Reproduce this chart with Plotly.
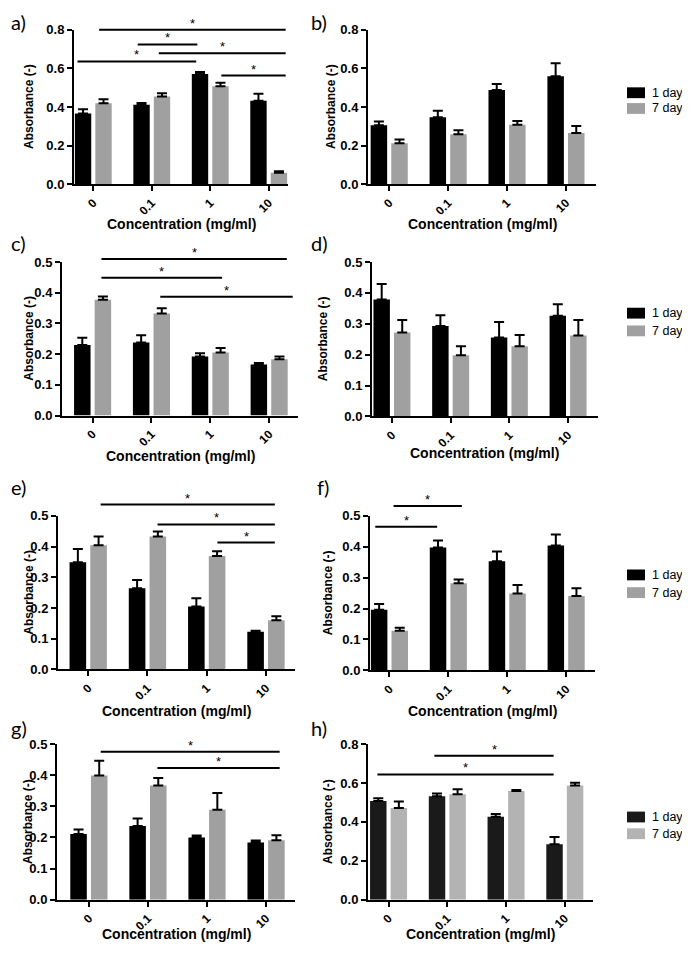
import plotly.graph_objects as go

# ---------------- data ----------------
categories = ["0", "0.1", "1", "10"]
series_names = ["1 day", "7 day"]
x_title = "Concentration (mg/ml)"
y_title = "Absorbance (-)"

a_day1 = [0.366, 0.412, 0.571, 0.432]
a_day1_sd = [0.022, 0.009, 0.010, 0.037]
a_day7 = [0.420, 0.454, 0.508, 0.059]
a_day7_sd = [0.020, 0.017, 0.017, 0.008]

b_day1 = [0.305, 0.347, 0.488, 0.559]
b_day1_sd = [0.020, 0.034, 0.031, 0.068]
b_day7 = [0.212, 0.259, 0.308, 0.266]
b_day7_sd = [0.020, 0.021, 0.019, 0.036]

c_day1 = [0.230, 0.238, 0.192, 0.166]
c_day1_sd = [0.023, 0.023, 0.011, 0.005]
c_day7 = [0.377, 0.332, 0.205, 0.183]
c_day7_sd = [0.011, 0.017, 0.015, 0.009]

d_day1 = [0.379, 0.293, 0.256, 0.326]
d_day1_sd = [0.050, 0.035, 0.050, 0.037]
d_day7 = [0.272, 0.198, 0.227, 0.262]
d_day7_sd = [0.040, 0.029, 0.037, 0.050]

e_day1 = [0.349, 0.264, 0.205, 0.123]
e_day1_sd = [0.043, 0.027, 0.027, 0.003]
e_day7 = [0.404, 0.433, 0.369, 0.160]
e_day7_sd = [0.029, 0.016, 0.016, 0.013]

f_day1 = [0.196, 0.398, 0.353, 0.404]
f_day1_sd = [0.019, 0.022, 0.032, 0.036]
f_day7 = [0.128, 0.282, 0.249, 0.241]
f_day7_sd = [0.010, 0.012, 0.027, 0.025]

g_day1 = [0.211, 0.237, 0.200, 0.184]
g_day1_sd = [0.015, 0.024, 0.006, 0.006]
g_day7 = [0.399, 0.367, 0.289, 0.191]
g_day7_sd = [0.048, 0.024, 0.054, 0.016]

h_day1 = [0.508, 0.532, 0.427, 0.285]
h_day1_sd = [0.014, 0.014, 0.014, 0.037]
h_day7 = [0.471, 0.542, 0.559, 0.588]
h_day7_sd = [0.034, 0.026, 0.005, 0.014]

# significance brackets: (start category pos, end category pos, level)
a_sig = [(0.10, 3.29, 0.800), (0.76, 1.78, 0.724), (1.12, 3.29, 0.678),
         (-0.27, 1.76, 0.636), (2.19, 3.29, 0.563)]
c_sig = [(0.15, 3.30, 0.510), (0.15, 2.20, 0.449), (1.15, 3.40, 0.387)]
e_sig = [(0.21, 3.15, 0.537), (1.17, 3.15, 0.472), (2.18, 3.15, 0.413)]
f_sig = [(0.07, 1.23, 0.532), (-0.24, 0.81, 0.465)]
g_sig = [(0.20, 3.23, 0.476), (1.16, 3.23, 0.423)]
h_sig = [(0.78, 2.81, 0.741), (-0.19, 2.81, 0.644)]

# ---------------- layout / style ----------------
PAGE_W, PAGE_H = 690, 956
OFF = 8  # default page body margin; keep figure inside the window (no scrollbars)
W, H = PAGE_W - 2 * OFF, PAGE_H - 2 * OFF
FONT = "Liberation Sans"
STD = ("#000000", "#a0a0a0")
ALT = ("#1a1a1a", "#b3b3b3")

panels = [
    dict(label="a)", d1=a_day1, s1=a_day1_sd, d7=a_day7, s7=a_day7_sd, sig=a_sig,
         ymax=0.8, dtick=0.2, xpx=(74, 288), ypx=(23, 180), xr=(-0.33, 3.33),
         col=STD, lab=(8.5, 15), ytx=29, xty=220, leg=None),
    dict(label="b)", d1=b_day1, s1=b_day1_sd, d7=b_day7, s7=b_day7_sd, sig=[],
         ymax=0.8, dtick=0.2, xpx=(368, 596), ypx=(23, 180), xr=(-0.36, 3.51),
         col=STD, lab=(309, 15), ytx=331, xty=220, leg=(87, 103)),
    dict(label="c)", d1=c_day1, s1=c_day1_sd, d7=c_day7, s7=c_day7_sd, sig=c_sig,
         ymax=0.5, dtick=0.1, xpx=(62, 298), ypx=(259, 415), xr=(-0.52, 3.49),
         col=STD, lab=(8.5, 240), ytx=29, xty=456, leg=None),
    dict(label="d)", d1=d_day1, s1=d_day1_sd, d7=d_day7, s7=d_day7_sd, sig=[],
         ymax=0.5, dtick=0.1, xpx=(372, 598), ypx=(259, 416), xr=(-0.34, 3.51),
         col=STD, lab=(309, 240), ytx=323, xty=453, leg=(311, 329)),
    dict(label="e)", d1=e_day1, s1=e_day1_sd, d7=e_day7, s7=e_day7_sd, sig=e_sig,
         ymax=0.5, dtick=0.1, xpx=(58, 295), ypx=(517, 673), xr=(-0.51, 3.49),
         col=STD, lab=(8.5, 488), ytx=29, xty=715, leg=None),
    dict(label="f)", d1=f_day1, s1=f_day1_sd, d7=f_day7, s7=f_day7_sd, sig=f_sig,
         ymax=0.5, dtick=0.1, xpx=(370, 595), ypx=(517, 674), xr=(-0.33, 3.49),
         col=STD, lab=(315, 488), ytx=328, xty=715, leg=(577, 595)),
    dict(label="g)", d1=g_day1, s1=g_day1_sd, d7=g_day7, s7=g_day7_sd, sig=g_sig,
         ymax=0.5, dtick=0.1, xpx=(57, 295), ypx=(749, 907), xr=(-0.54, 3.49),
         col=STD, lab=(8.5, 733), ytx=28, xty=942, leg=None),
    dict(label="h)", d1=h_day1, s1=h_day1_sd, d7=h_day7, s7=h_day7_sd, sig=h_sig,
         ymax=0.8, dtick=0.2, xpx=(368, 593), ypx=(749, 907), xr=(-0.35, 3.48),
         col=ALT, lab=(309, 733), ytx=328, xty=942, leg=(823, 840)),
]

def px_x(p):
    return (p - OFF) / W

def px_y(p):
    return 1 - (p - OFF) / H

fig = go.Figure()
shapes = []
annotations = []
layout_axes = {}

for i, p in enumerate(panels):
    n = "" if i == 0 else str(i + 1)
    xa, ya = "x" + n, "y" + n
    for vals, sds, color, name in [(p["d1"], p["s1"], p["col"][0], series_names[0]),
                                   (p["d7"], p["s7"], p["col"][1], series_names[1])]:
        fig.add_trace(go.Bar(
            x=categories, y=vals, name=name, xaxis=xa, yaxis=ya, showlegend=False,
            marker=dict(color=color, line=dict(width=0)),
            error_y=dict(type="data", array=sds, arrayminus=[0] * len(sds),
                         symmetric=False, color="black", thickness=2, width=5),
        ))
    layout_axes["xaxis" + n] = dict(
        domain=[px_x(p["xpx"][0]), px_x(p["xpx"][1])], anchor=ya,
        type="category", categoryorder="array", categoryarray=categories,
        range=list(p["xr"]), showline=True, linecolor="black", linewidth=2,
        ticks="outside", ticklen=5, tickwidth=2, tickcolor="black",
        tickangle=-45, showgrid=False, zeroline=False,
        tickfont=dict(family=FONT, size=12, color="black", weight="bold"),
    )
    layout_axes["yaxis" + n] = dict(
        domain=[px_y(p["ypx"][1]), px_y(p["ypx"][0])], anchor=xa,
        range=[0, p["ymax"]], dtick=p["dtick"], tick0=0, tickformat=".1f",
        showline=True, linecolor="black", linewidth=2,
        ticks="outside", ticklen=5, tickwidth=2, tickcolor="black",
        showgrid=False, zeroline=False,
        tickfont=dict(family=FONT, size=13, color="black", weight="bold"),
    )
    # significance brackets
    x0r, x1r = p["xr"]
    for (s0, s1, lvl) in p["sig"]:
        xd0 = (s0 - x0r) / (x1r - x0r)
        xd1 = (s1 - x0r) / (x1r - x0r)
        yd = lvl / p["ymax"]
        shapes.append(dict(type="line", xref=xa + " domain", yref=ya + " domain",
                           x0=xd0, x1=xd1, y0=yd, y1=yd,
                           line=dict(color="black", width=2)))
        annotations.append(dict(text="*", xref=xa + " domain", yref=ya + " domain",
                                x=(xd0 + xd1) / 2, y=yd, yanchor="bottom",
                                xanchor="center", showarrow=False, yshift=-3,
                                font=dict(family=FONT, size=13, color="black")))
    # axis titles
    xc = (p["xpx"][0] + p["xpx"][1]) / 2
    annotations.append(dict(text=x_title, xref="paper", yref="paper",
                            x=px_x(xc), y=px_y(p["xty"]), showarrow=False,
                            xanchor="center", yanchor="middle",
                            font=dict(family=FONT, size=14, color="black", weight="bold")))
    yc = (p["ypx"][0] + p["ypx"][1]) / 2
    annotations.append(dict(text=y_title, xref="paper", yref="paper",
                            x=px_x(p["ytx"]), y=px_y(yc), showarrow=False,
                            textangle=-90, xanchor="center", yanchor="middle",
                            font=dict(family=FONT, size=12, color="black", weight="bold")))
    # panel label
    annotations.append(dict(text=p["label"], xref="paper", yref="paper",
                            x=px_x(p["lab"][0]), y=px_y(p["lab"][1]), showarrow=False,
                            xanchor="left", yanchor="middle",
                            font=dict(family="Lato", size=20, color="black")))
    # legend
    if p["leg"]:
        for yy, color, name in zip(p["leg"], p["col"], series_names):
            shapes.append(dict(type="rect", xref="paper", yref="paper",
                               x0=px_x(627), x1=px_x(645),
                               y0=px_y(yy + 5.5), y1=px_y(yy - 5.5),
                               fillcolor=color, line=dict(width=0)))
            annotations.append(dict(text=name, xref="paper", yref="paper",
                                    x=px_x(650), y=px_y(yy), showarrow=False,
                                    xanchor="left", yanchor="middle",
                                    font=dict(family=FONT, size=12.5, color="black")))

fig.update_layout(
    width=W, height=H, margin=dict(l=0, r=0, t=0, b=0),
    paper_bgcolor="white", plot_bgcolor="white",
    barmode="group", bargap=0.3, bargroupgap=0.2,
    showlegend=False, shapes=shapes, annotations=annotations,
    **layout_axes,
)

fig.write_html("out.html")
